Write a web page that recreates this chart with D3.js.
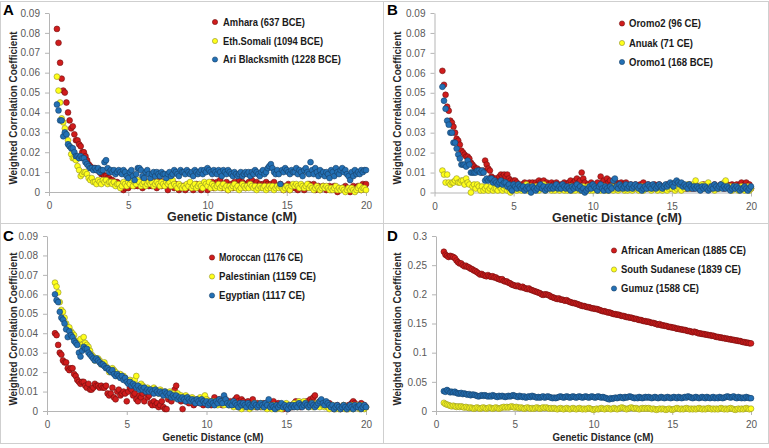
<!DOCTYPE html>
<html>
<head>
<meta charset="utf-8">
<script src="https://cdn.jsdelivr.net/npm/d3@7/dist/d3.min.js"></script>
<style>
  html, body { margin: 0; padding: 0; background: #fff; }
  svg { display: block; }
</style>
</head>
<body>
<div id="chart"></div>
<script>
// ---------------- DATA ----------------
// Genetic distance bins (cM)
const distances = [
  0.5,0.6,0.7,0.8,0.9,1.0,1.1,1.2,1.3,1.4,
  1.5,1.6,1.7,1.8,1.9,2.0,2.1,2.2,2.3,2.4,
  2.5,2.6,2.7,2.8,2.9,3.0,3.1,3.2,3.3,3.4,
  3.5,3.6,3.7,3.8,3.9,4.0,4.1,4.2,4.3,4.4,
  4.5,4.6,4.7,4.8,4.9,5.0,5.1,5.2,5.3,5.4,
  5.5,5.6,5.7,5.8,5.9,6.0,6.1,6.2,6.3,6.4,
  6.5,6.6,6.7,6.8,6.9,7.0,7.1,7.2,7.3,7.4,
  7.5,7.6,7.7,7.8,7.9,8.0,8.1,8.2,8.3,8.4,
  8.5,8.6,8.7,8.8,8.9,9.0,9.1,9.2,9.3,9.4,
  9.5,9.6,9.7,9.8,9.9,10.0,10.1,10.2,10.3,10.4,
  10.5,10.6,10.7,10.8,10.9,11.0,11.1,11.2,11.3,11.4,
  11.5,11.6,11.7,11.8,11.9,12.0,12.1,12.2,12.3,12.4,
  12.5,12.6,12.7,12.8,12.9,13.0,13.1,13.2,13.3,13.4,
  13.5,13.6,13.7,13.8,13.9,14.0,14.1,14.2,14.3,14.4,
  14.5,14.6,14.7,14.8,14.9,15.0,15.1,15.2,15.3,15.4,
  15.5,15.6,15.7,15.8,15.9,16.0,16.1,16.2,16.3,16.4,
  16.5,16.6,16.7,16.8,16.9,17.0,17.1,17.2,17.3,17.4,
  17.5,17.6,17.7,17.8,17.9,18.0,18.1,18.2,18.3,18.4,
  18.5,18.6,18.7,18.8,18.9,19.0,19.1,19.2,19.3,19.4,
  19.5,19.6,19.7,19.8,19.9,20.0
];

// Weighted correlation coefficients, in units of 0.001
// Panel A
const amhara = [
  82,75,65,57,51,50,45,40,36,32, 33,29,26,26,24,23,20,20,18,16,
  14,13,12,12,12,11,11,10,9,9, 8,8,7,7,6,6,5,5,5,4,
  4,2,1,2,4,2,3,4,5,3, 4,3,4,5,2,3,4,5,3,4,
  3,5,4,2,4,6,3,4,5,3, 1,4,3,5,2,4,3,1,2,3,
  3,1,2,4,3,2,1,3,4,2, 3,1,2,4,3,1,4,3,5,2,
  4,5,3,6,2,4,3,5,1,3, 4,2,5,3,4,6,3,5,4,2,
  4,5,3,6,4,2,5,3,4,3, 4,3,5,4,2,4,3,5,2,3,
  3,4,2,1,3,2,4,1,2,3, 2,3,1,2,3,2,1,3,2,4,
  3,2,4,1,2,3,1,2,3,2, 1,2,3,1,2,3,1,0,2,1,
  2,1,3,2,1,0,2,3,1,2, 3,2,1,4,3,4
];
const ethSomali = [
  58,51,45,37,35,32,29,26,23,19, 17,17,16,13,11,8,9,10,10,9,
  7,6,7,5,5,4,6,5,4,6, 5,6,4,5,5,4,5,3,4,4,
  2,3,5,4,3,5,4,6,3,5, 4,6,5,3,4,5,3,4,5,4,
  5,3,4,5,4,3,5,4,3,5, 4,5,3,6,4,3,2,4,3,2,
  3,2,4,3,5,2,3,4,2,3, 4,3,2,5,4,3,5,2,4,3,
  2,3,4,2,3,4,2,3,1,3, 2,3,4,2,3,1,2,4,3,2,
  3,2,4,3,2,3,1,2,3,2, 2,3,1,2,3,2,3,1,2,3,
  2,3,2,1,2,3,2,1,3,4, 3,4,3,2,4,3,2,3,4,2,
  3,2,1,2,3,2,1,2,3,2, 3,2,1,2,1,2,3,1,2,1,
  2,1,0,1,2,1,2,1,0,1, 2,3,1,2,2,1
];
const ariBlacksmith = [
  44,41,36,36,28,30,29,24,23,22, 22,20,18,18,17,18,17,17,15,14,
  13,12,12,11,12,11,12,10,11,11, 15,16,12,10,11,10,11,9,10,11,
  10,9,11,10,8,7,10,11,8,6, 9,12,12,11,8,7,10,11,9,7,
  9,10,8,10,9,8,10,9,9,7, 9,10,8,9,11,10,9,8,11,10,
  10,9,11,10,9,10,8,11,10,9, 10,11,9,11,10,12,11,10,9,11,
  10,9,11,10,8,11,10,9,11,10, 9,8,10,9,8,9,10,8,9,10,
  9,10,8,10,9,11,10,9,8,10, 11,9,10,12,13,14,12,10,9,11,
  9,4,11,10,12,11,10,9,11,10, 10,12,9,11,10,8,11,12,10,9,
  15,11,9,12,10,8,11,9,10,8, 10,9,7,11,10,8,12,10,9,11,
  12,10,11,9,8,6,10,8,11,9, 10,9,11,10,11,11
];
// Panel B
const oromo2 = [
  61,54,49,43,41,36,35,33,30,27, 26,24,21,20,19,18,18,17,15,14,
  13,12,12,11,11,10,11,16,14,12, 11,8,7,7,7,6,8,9,8,9,
  8,9,7,6,5,6,6,5,4,3, 4,3,5,4,3,5,4,5,3,5,
  4,6,5,4,6,3,5,4,3,5, 4,3,5,4,2,4,3,5,4,3,
  5,6,4,5,6,7,5,6,10,7, 5,3,4,3,5,4,3,4,5,3,
  8,5,6,4,7,5,6,4,3,4, 5,4,3,5,4,3,5,3,2,4,
  3,2,4,3,2,4,3,5,3,2, 4,3,2,3,4,2,3,4,2,3,
  2,3,4,3,2,4,3,2,3,4, 3,2,4,3,2,3,4,2,3,2,
  4,3,2,3,2,4,3,2,3,2, 3,2,4,3,2,3,4,3,2,3,
  4,3,2,4,3,2,4,3,4,5, 3,4,5,3,4,2
];
const anuak = [
  11,9,5,9,5,4,5,5,6,7, 5,5,6,6,4,7,5,4,0,3,
  4,2,4,3,1,3,1,2,3,1, 2,3,1,2,2,1,3,2,1,2,
  3,1,2,0,1,3,2,1,2,3, 1,2,3,4,1,2,3,1,2,3,
  2,1,3,2,4,1,2,3,2,1, 2,1,3,2,1,2,3,1,2,1,
  2,3,1,2,1,3,2,1,2,3, 1,2,3,1,2,1,3,2,1,2,
  1,2,3,1,2,1,2,3,1,2, 3,1,2,3,2,1,2,1,3,2,
  1,2,3,2,1,2,3,1,2,3, 2,3,1,2,3,2,1,3,2,1,
  2,3,1,2,3,2,3,1,2,3, 2,1,3,2,3,4,2,3,4,3,
  6,3,2,3,4,3,2,4,5,3, 2,3,1,2,3,2,3,4,5,6,
  3,2,3,1,2,3,2,1,2,3, 2,1,2,3,1,2
];
const oromo1 = [
  53,46,42,36,34,30,30,25,25,22, 19,17,14,14,14,13,16,14,10,10,
  10,10,11,11,10,11,10,6,7,6, 7,7,5,6,5,4,5,6,4,5,
  5,3,4,2,1,4,3,2,4,3, 2,3,1,2,3,2,0,3,2,1,
  2,3,4,2,3,1,2,3,2,3, 2,3,4,2,3,2,4,3,2,3,
  2,1,3,2,3,4,2,3,1,2, 0,1,2,3,2,4,3,2,1,3,
  4,2,1,3,2,1,3,2,6,7, 3,2,4,3,2,3,4,2,3,4,
  2,3,4,3,2,3,1,2,3,2, 4,3,2,4,3,2,3,4,3,2,
  3,4,3,4,5,4,3,5,6,5, 4,5,3,4,3,2,4,3,2,3,
  2,3,2,1,3,2,3,2,1,2, 3,2,4,3,2,3,4,2,3,2,
  3,2,1,2,3,2,3,2,1,2, 2,3,2,1,2,3
];
// Panel C
const moroccan = [
  40,39,34,30,29,26,25,25,22,21, 22,22,19,18,16,15,14,15,15,13,
  12,14,11,11,12,14,13,13,12,13, 12,12,13,9,8,9,12,7,6,10,
  11,8,9,10,9,5,10,12,11,8, 9,6,5,8,7,9,5,10,7,8,
  4,3,5,3,4,2,3,5,2,1, 1,6,7,5,9,11,13,8,6,5,
  1,6,5,7,4,6,5,3,4,5, 6,4,5,3,4,6,5,4,3,5,
  7,5,4,6,5,3,4,6,5,4, 5,4,3,6,7,5,4,6,5,3,
  4,5,3,4,6,3,2,4,3,2, 3,4,2,3,4,2,3,5,2,3,
  4,2,3,1,2,3,1,2,3,2, 4,5,3,4,2,3,4,3,5,4,
  6,5,7,8,4,3,5,4,3,4, 3,2,4,3,2,1,2,3,2,1,
  2,3,2,1,3,2,4,5,4,3, 2,3,4,2,3,2
];
const palestinian = [
  66,64,61,56,52,51,48,45,43,43, 41,40,39,36,35,35,37,34,38,35,
  34,33,31,29,28,26,27,27,26,24, 24,25,23,22,20,21,22,21,20,18,
  19,19,18,18,17,16,15,16,14,15, 16,18,13,12,14,13,12,11,12,11,
  11,10,12,11,10,9,11,10,9,10, 9,8,10,8,9,7,8,9,7,8,
  7,6,8,7,6,5,7,6,5,6, 5,7,6,5,8,6,4,5,4,5,
  4,5,3,4,5,4,3,5,4,3, 4,3,2,4,3,2,3,1,3,2,
  3,2,1,3,2,4,3,2,3,4, 2,3,2,1,3,2,1,3,2,1,
  2,3,1,2,3,4,2,3,2,3, 4,3,2,5,4,3,5,4,3,2,
  3,4,2,3,4,3,2,4,3,2, 3,2,1,2,3,2,1,2,1,2,
  2,3,1,2,1,2,3,1,2,3, 2,1,3,2,1,2
];
const egyptian = [
  60,57,56,51,48,47,45,42,38,41, 39,38,36,35,34,30,28,31,33,32,
  32,30,29,28,27,26,27,26,25,24, 24,23,22,22,21,20,21,19,18,19,
  18,17,18,16,17,15,14,15,13,14, 13,12,13,11,12,11,12,10,11,10,
  11,10,9,11,10,9,10,9,8,10, 9,8,9,7,8,7,8,6,7,6,
  7,6,5,7,6,5,6,5,4,6, 5,4,6,5,4,5,3,4,5,4,
  3,5,4,6,5,4,8,6,4,3, 4,3,5,4,3,2,4,3,4,3,
  2,4,3,2,3,4,3,2,3,4, 3,2,4,3,6,2,3,2,1,3,
  2,3,4,2,3,2,1,3,2,3, 2,3,2,4,3,2,3,4,3,2,
  3,4,3,2,3,4,5,6,4,3, 5,4,3,2,3,1,2,3,2,1,
  2,3,2,1,2,3,2,1,3,2, 2,3,1,2,3,2
];
// Panel D
const africanAmerican = [
  273,268,266,264,266,265,264,262,258,255, 253,253,250,248,249,247,246,244,243,241,
  240,238,236,234,235,233,232,231,233,231, 230,231,229,229,227,226,225,226,223,222,
  222,220,219,217,216,215,214,215,213,212, 213,211,210,209,210,208,207,206,205,204,
  203,202,200,199,200,200,199,198,196,195, 194,193,192,193,191,191,190,189,190,188,
  187,186,185,185,184,183,182,181,180,180, 179,178,178,177,176,176,175,175,174,173,
  172,171,171,170,169,169,168,167,166,166, 165,165,164,163,163,162,161,161,160,160,
  159,158,158,157,156,156,155,154,154,153, 153,152,151,151,150,149,148,149,147,147,
  146,146,145,144,144,143,143,142,141,141, 140,140,139,139,138,137,137,136,135,136,
  135,134,133,133,132,132,131,131,130,130, 129,129,128,127,127,126,126,125,125,124,
  124,123,123,122,122,121,121,120,120,119, 118,118,117,117,116,116
];
const southSudanese = [
  14,12,11,10,9,8,9,8,7,8, 7,8,7,6,7,6,5,6,5,4,
  5,6,5,4,5,6,5,4,5,6, 5,4,5,6,5,4,5,6,7,6,
  7,6,7,8,7,6,7,6,5,6, 5,4,5,6,5,4,5,4,5,6,
  5,4,5,6,5,6,5,4,5,4, 5,4,3,4,5,4,3,4,5,4,
  3,4,5,4,3,4,5,4,3,4, 3,4,5,4,3,2,3,4,3,4,
  5,4,3,4,5,4,3,4,5,4, 3,4,5,6,5,4,3,4,5,6,
  5,4,5,4,3,4,5,4,5,4, 5,4,3,4,3,2,3,4,3,4,
  3,2,3,4,3,2,3,4,5,4, 3,4,3,4,5,4,3,4,3,4,
  3,4,5,4,3,4,3,4,5,4, 3,4,3,4,3,4,5,4,3,4,
  3,4,5,4,3,2,3,4,3,4, 3,4,5,4,3,4
];
const gumuz = [
  34,33,36,34,32,33,32,33,31,30, 30,31,29,30,29,28,29,27,28,28,
  27,26,25,26,27,26,27,26,25,26, 25,27,26,25,24,26,25,26,25,24,
  25,26,25,26,27,26,25,24,26,25, 24,25,23,24,25,24,26,25,24,23,
  24,23,24,25,23,24,25,24,23,22, 23,22,23,24,25,24,23,24,25,24,
  23,24,25,24,23,24,25,24,23,24, 25,24,23,24,25,24,23,24,25,24,
  23,24,23,22,21,20,22,21,22,23, 22,23,24,23,22,24,23,24,25,24,
  23,22,23,22,24,23,22,23,24,23, 24,23,22,23,24,23,22,23,24,23,
  22,23,24,23,22,23,24,23,22,24, 23,22,23,24,23,25,24,23,22,23,
  24,23,22,23,24,23,22,24,23,22, 23,24,22,23,22,24,23,22,23,24,
  25,24,23,24,25,23,22,24,23,22, 23,22,24,23,22,22
];

const xTicks = [0, 5, 10, 15, 20];
const yTicksSmall = [0, 0.01, 0.02, 0.03, 0.04, 0.05, 0.06, 0.07, 0.08, 0.09];
const yTickLabelsSmall = ["0", "0.01", "0.02", "0.03", "0.04", "0.05", "0.06", "0.07", "0.08", "0.09"];
const yTicksD = [0, 0.05, 0.1, 0.15, 0.2, 0.25, 0.3];
const yTickLabelsD = ["0", "0.05", "0.1", "0.15", "0.2", "0.25", "0.3"];

const labelsA = ["Amhara (637 BCE)", "Eth.Somali (1094 BCE)", "Ari Blacksmith (1228 BCE)"];
const labelsB = ["Oromo2 (96 CE)", "Anuak (71 CE)", "Oromo1 (168 BCE)"];
const labelsC = ["Moroccan (1176 CE)", "Palestinian (1159 CE)", "Egyptian (1117 CE)"];
const labelsD = ["African American (1885 CE)", "South Sudanese (1839 CE)", "Gumuz (1588 CE)"];

const xTitle = "Genetic Distance (cM)";
const yTitle = "Weighted Correlation Coefficient";
const UNIT = 0.001;

// ---------------- STYLE / LAYOUT ----------------
const W = 769, H = 448;
const styles = [
  { fill: "#d01c1c", stroke: "#6e0f0f" },
  { fill: "#ffff1a", stroke: "#8f8f2a" },
  { fill: "#2370b5", stroke: "#173f66" }
];
const axisColor = "#b5b5b5";
const tickTextColor = "#595959";
const borderColor = "#cfcfcf";
const FONT = "'Liberation Sans', Arial, sans-serif";

const svg = d3.select("#chart").append("svg")
  .attr("width", W).attr("height", H)
  .attr("viewBox", `0 0 ${W} ${H}`);
svg.append("rect").attr("width", W).attr("height", H).attr("fill", "#fff");

// panel frame
const frame = svg.append("g").attr("stroke", borderColor).attr("stroke-width", 1).attr("fill", "none");
[[0, 1.5, 769, 1.5], [0.5, 1, 0.5, 444], [768.5, 1, 768.5, 444], [0, 443.5, 769, 443.5],
 [383.5, 1, 383.5, 444], [0, 223.5, 769, 223.5]].forEach(l => {
  frame.append("line").attr("x1", l[0]).attr("y1", l[1]).attr("x2", l[2]).attr("y2", l[3]);
});

const panelDefs = [
  { letter: "A", ox: 0, oy: 0, x0: 49, x1: 366, y0: 192, y1: 13, ymax: 0.09,
    yTicks: yTicksSmall, yLabels: yTickLabelsSmall, series: [amhara, ethSomali, ariBlacksmith],
    labels: labelsA, legMx: 215, legTx: 223, legY: [22, 41, 59.5], legW: [82, 100, 118],
    xTitleX: 232, xTitleW: 130, xTitleFs: 12, xTitleDy: 25, yTitleY: 108, xLabPad: 6 },
  { letter: "B", ox: 384, oy: 0, x0: 50.5, x1: 367, y0: 192.5, y1: 13, ymax: 0.09,
    yTicks: yTicksSmall, yLabels: yTickLabelsSmall, series: [oromo2, anuak, oromo1],
    labels: labelsB, legMx: 238, legTx: 245, legY: [23.5, 43, 62], legW: [72, 64, 84],
    xTitleX: 233, xTitleW: 130, xTitleFs: 12, xTitleDy: 25, yTitleY: 108, xLabPad: 6 },
  { letter: "C", ox: 0, oy: 224, x0: 47, x1: 366, y0: 187, y1: 12, ymax: 0.09,
    yTicks: yTicksSmall, yLabels: yTickLabelsSmall, series: [moroccan, palestinian, egyptian],
    labels: labelsC, legMx: 212, legTx: 219, legY: [33.5, 52.5, 71.5], legW: [84, 97, 86],
    xTitleX: 213, xTitleW: 101, xTitleFs: 11, xTitleDy: 26, yTitleY: 105, xLabPad: 6 },
  { letter: "D", ox: 384, oy: 224, x0: 52, x1: 367, y0: 187, y1: 12, ymax: 0.3,
    yTicks: yTicksD, yLabels: yTickLabelsD, series: [africanAmerican, southSudanese, gumuz],
    labels: labelsD, legMx: 230, legTx: 237, legY: [26.5, 45.5, 64.5], legW: [125, 120, 78],
    xTitleX: 219, xTitleW: 101, xTitleFs: 11, xTitleDy: 26, yTitleY: 105, xLabPad: 6 }
];

panelDefs.forEach(p => {
  const g = svg.append("g").attr("transform", `translate(${p.ox},${p.oy})`);
  const x = d3.scaleLinear().domain([0, 20]).range([p.x0, p.x1]);
  const y = d3.scaleLinear().domain([0, p.ymax]).range([p.y0, p.y1]);

  // axes
  const yAxis = d3.axisLeft(y).tickValues(p.yTicks)
    .tickFormat((d, i) => p.yLabels[i]).tickSize(4).tickSizeOuter(0).tickPadding(5);
  const xAxis = d3.axisBottom(x).tickValues(xTicks)
    .tickFormat(d3.format("d")).tickSize(4).tickSizeOuter(0).tickPadding(p.xLabPad);

  const gy = g.append("g").attr("transform", `translate(${p.x0},0)`).call(yAxis);
  const gx = g.append("g").attr("transform", `translate(0,${p.y0})`).call(xAxis);
  [gx, gy].forEach(a => {
    a.select(".domain").attr("stroke", axisColor).attr("stroke-width", 1);
    a.selectAll(".tick line").attr("stroke", axisColor);
    a.selectAll(".tick text").attr("fill", tickTextColor)
      .style("font-family", FONT).style("font-size", "10px");
  });

  // points (series drawn in order: red, yellow, blue)
  p.series.forEach((vals, si) => {
    const pts = vals.map((v, i) => ({ d: distances[i], v: v * UNIT })).filter(o => o.d !== undefined);
    g.append("g").selectAll("circle").data(pts).join("circle")
      .attr("cx", o => x(o.d)).attr("cy", o => y(o.v)).attr("r", 2.9)
      .attr("fill", styles[si].fill).attr("stroke", styles[si].stroke).attr("stroke-width", 0.6);
  });

  // axis titles
  g.append("text").attr("x", p.xTitleX).attr("y", p.y0 + p.xTitleDy).attr("dy", "0.35em")
    .attr("text-anchor", "middle").attr("textLength", p.xTitleW).attr("lengthAdjust", "spacingAndGlyphs")
    .style("font-family", FONT).style("font-size", p.xTitleFs + "px").style("font-weight", "bold")
    .attr("fill", "#262626").text(xTitle);
  g.append("text").attr("transform", `translate(13,${p.yTitleY}) rotate(-90)`).attr("dy", "0.35em")
    .attr("text-anchor", "middle").attr("textLength", 153).attr("lengthAdjust", "spacingAndGlyphs")
    .style("font-family", FONT).style("font-size", "11px").style("font-weight", "bold")
    .attr("fill", "#262626").text(yTitle);

  // panel letter
  g.append("text").attr("x", 3).attr("y", p.letter === "A" || p.letter === "B" ? 15 : 17)
    .style("font-family", FONT).style("font-size", "15px").style("font-weight", "bold")
    .attr("fill", "#000").text(p.letter);

  // legend
  p.labels.forEach((lab, i) => {
    g.append("circle").attr("cx", p.legMx).attr("cy", p.legY[i]).attr("r", 2.6)
      .attr("fill", styles[i].fill).attr("stroke", styles[i].stroke).attr("stroke-width", 0.6);
    g.append("text").attr("x", p.legTx).attr("y", p.legY[i]).attr("dy", "0.35em")
      .attr("textLength", p.legW[i]).attr("lengthAdjust", "spacingAndGlyphs")
      .style("font-family", FONT).style("font-size", "11px").style("font-weight", "bold")
      .attr("fill", "#1a1a1a").text(lab);
  });
});
</script>
</body>
</html>
